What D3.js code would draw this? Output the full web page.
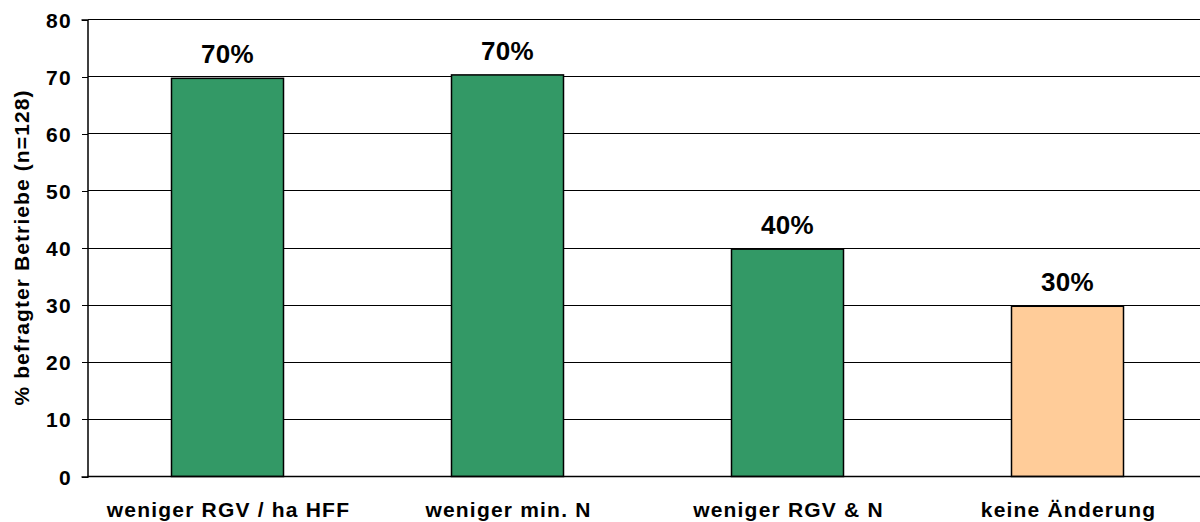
<!DOCTYPE html>
<html>
<head>
<meta charset="utf-8">
<script src="https://cdn.jsdelivr.net/npm/d3@7"></script>
<style>
  html, body { margin: 0; padding: 0; background: #fff; }
  svg { display: block; font-family: "Liberation Sans", Arial, sans-serif; font-weight: bold; }
</style>
</head>
<body>
<svg id="chart" width="1200" height="522"></svg>
<script>
// Survey answers: share of farms per response option
const categories = ["weniger RGV / ha HFF", "weniger min. N", "weniger RGV & N", "keine Änderung"];
const shares = [69.7, 70.3, 39.8, 29.8];
const barColors = ["#339966", "#339966", "#339966", "#FFCC99"];
const yTicks = [0, 10, 20, 30, 40, 50, 60, 70, 80];
const yTitle = "% befragter Betriebe (n=128)";

const svg = d3.select("#chart");
const plotLeft = 87.5, plotRight = 1207.5, plotTop = 19.5, plotBottom = 476.5;

const x = d3.scaleBand()
  .domain(categories)
  .range([plotLeft, plotRight])
  .paddingInner(0.6)
  .paddingOuter(0.3);

const y = d3.scaleLinear()
  .domain([0, 80])
  .range([plotBottom, plotTop]);

// horizontal gridlines
svg.append("g")
  .selectAll("line")
  .data(yTicks.filter(t => t > 0))
  .join("line")
  .attr("x1", plotLeft).attr("x2", 1200)
  .attr("y1", d => y(d)).attr("y2", d => y(d))
  .attr("stroke", "#000")
  .attr("stroke-width", 1)
  .attr("shape-rendering", "crispEdges");

// y axis
const yAxis = svg.append("g")
  .attr("transform", `translate(${plotLeft},0)`)
  .call(d3.axisLeft(y).tickValues(yTicks).tickSize(6).tickPadding(0).tickFormat(d3.format("d")));
yAxis.select(".domain").attr("stroke", "#000").attr("stroke-width", 1.5);
yAxis.selectAll(".tick line").attr("stroke", "#000").attr("shape-rendering", "crispEdges");
yAxis.selectAll(".tick text")
  .attr("x", -15.5)
  .attr("dy", "0.36em")
  .attr("fill", "#000")
  .style("font-size", "21px")
  .style("font-weight", "bold")
  .style("letter-spacing", "1.3px")
  .style("font-family", "'Liberation Sans', Arial, sans-serif");

// bars
svg.append("g")
  .selectAll("rect")
  .data(shares)
  .join("rect")
  .attr("x", (d, i) => x(categories[i]))
  .attr("y", d => y(d))
  .attr("width", x.bandwidth())
  .attr("height", d => y(0) - y(d))
  .attr("fill", (d, i) => barColors[i])
  .attr("stroke", "#000")
  .attr("stroke-width", 1.5);

// baseline
svg.append("line")
  .attr("x1", plotLeft).attr("x2", 1200)
  .attr("y1", plotBottom).attr("y2", plotBottom)
  .attr("stroke", "#000")
  .attr("stroke-width", 1.5);

// value labels
const pct = d => d3.format(".0f")(d) + "%";
svg.append("g")
  .selectAll("text")
  .data(shares)
  .join("text")
  .attr("x", (d, i) => x(categories[i]) + x.bandwidth() / 2)
  .attr("y", d => y(d) - 15)
  .attr("text-anchor", "middle")
  .style("font-size", "26px")
  .style("letter-spacing", "0.3px")
  .text(pct);

// category labels
svg.append("g")
  .selectAll("text")
  .data(categories)
  .join("text")
  .attr("x", d => x(d) + x.bandwidth() / 2 + 1)
  .attr("y", 517)
  .attr("text-anchor", "middle")
  .style("font-size", "21px")
  .style("letter-spacing", "1.2px")
  .text(d => d);

// y axis title
svg.append("text")
  .attr("transform", "translate(29,247.5) rotate(-90)")
  .attr("text-anchor", "middle")
  .style("font-size", "21px")
  .style("letter-spacing", "1.1px")
  .text(yTitle);
</script>
</body>
</html>
